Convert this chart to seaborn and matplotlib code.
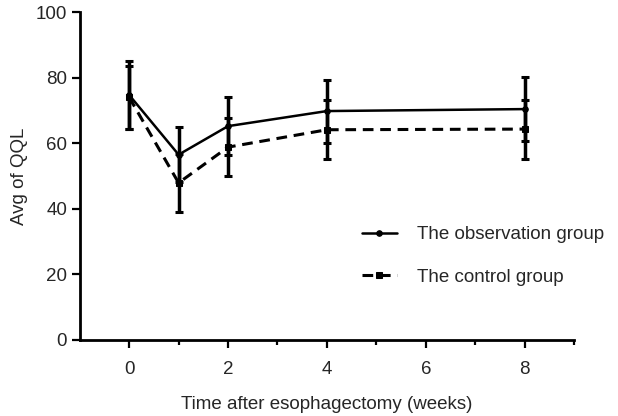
import matplotlib
matplotlib.use("Agg")
import matplotlib.pyplot as plt
import seaborn as sns
import pandas as pd

# data
weeks = [0, 1, 2, 4, 8]
obs_mean = [74.7, 56.5, 65.2, 69.8, 70.4]
obs_sd = [10.3, 8.3, 8.9, 9.6, 9.7]
ctrl_mean = [74.0, 47.9, 58.8, 64.1, 64.3]
ctrl_sd = [9.6, 8.8, 8.8, 9.0, 9.0]
labels = ["The observation group", "The control group"]

sns.set_style("ticks")
plt.rcParams['font.family'] = ['Liberation Sans', 'DejaVu Sans']

fig = plt.figure(figsize=(6.18, 4.16), dpi=100)
ax = fig.add_axes([0.129, 0.183, 0.80, 0.788])

df_obs = pd.DataFrame({'week': weeks, 'qql': obs_mean})
df_ctrl = pd.DataFrame({'week': weeks, 'qql': ctrl_mean})

# error bars first so the lines sit on top
ax.errorbar(weeks, obs_mean, yerr=obs_sd, fmt='none', ecolor='black',
            elinewidth=2.5, capsize=3, capthick=2.2)
ax.errorbar(weeks, ctrl_mean, yerr=ctrl_sd, fmt='none', ecolor='black',
            elinewidth=2.5, capsize=3, capthick=2.2)

sns.lineplot(data=df_obs, x='week', y='qql', ax=ax, color='black',
             linewidth=1.8, marker='o', markersize=4, markeredgecolor='black',
             label=labels[0])
sns.lineplot(data=df_ctrl, x='week', y='qql', ax=ax, color='black',
             linewidth=2.2, linestyle=(0, (3.5, 2.2)), marker='s', markersize=5,
             markeredgecolor='black', label=labels[1])

ax.set_xlim(-1, 9)
ax.set_ylim(0, 100)
ax.set_xticks([0, 2, 4, 6, 8])
ax.set_xticks([1, 3, 5, 7, 9], minor=True)
ax.set_yticks([0, 20, 40, 60, 80, 100])
ax.tick_params(axis='both', which='major', labelsize=13.5, length=6, width=1.6, color='black')
ax.tick_params(axis='x', which='minor', length=3.5, width=1.6, color='black')
ax.tick_params(axis='x', pad=9)
ax.tick_params(axis='y', pad=3)

for side in ['left', 'bottom']:
    ax.spines[side].set_linewidth(2)
    ax.spines[side].set_color('black')
sns.despine(ax=ax)

ax.set_xlabel('Time after esophagectomy (weeks)', fontsize=13.5, labelpad=13)
ax.set_ylabel('Avg of QQL', fontsize=13.5, labelpad=6)

ax.legend(loc='center left', bbox_to_anchor=(0.536, 0.256), frameon=False,
          fontsize=13.5, handlelength=1.9, handletextpad=1.07, labelspacing=1.35)

fig.savefig('out.png', dpi=100)
